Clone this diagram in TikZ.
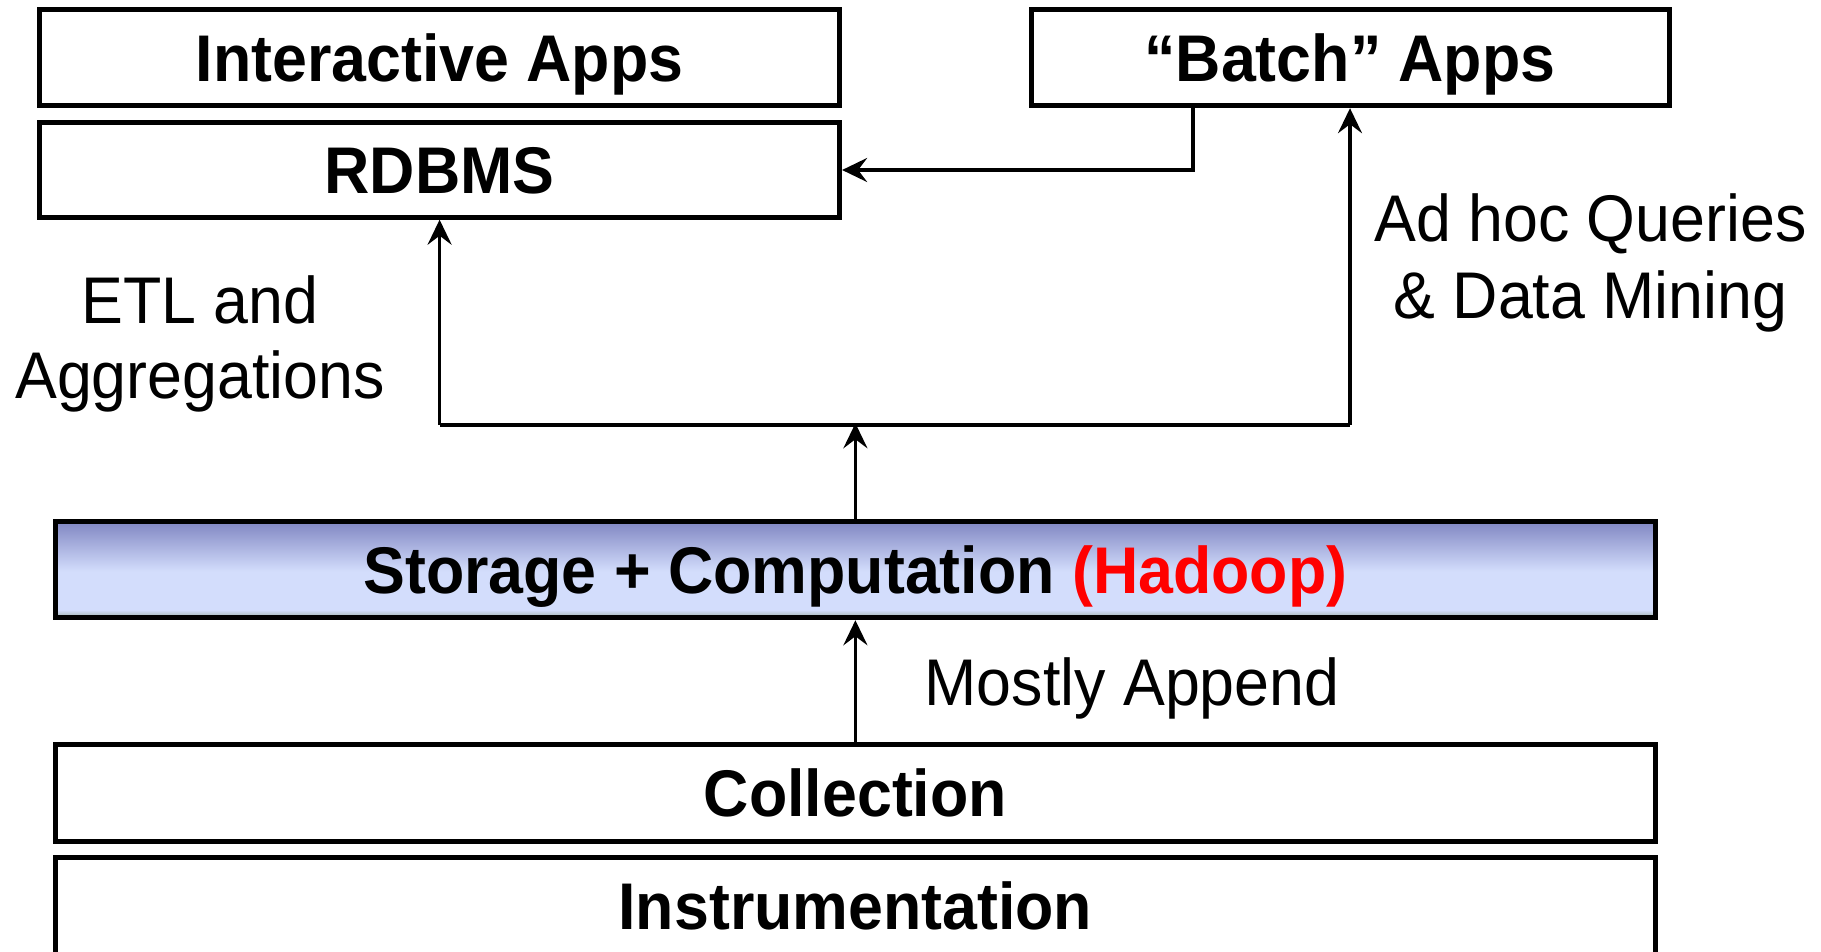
\documentclass[tikz,border=0pt]{standalone}
\usepackage{fontspec}
\setmainfont{Liberation Sans}[FakeStretch=0.95]
\usetikzlibrary{arrows.meta}
\definecolor{topb}{RGB}{128,134,194}
\definecolor{lightb}{RGB}{211,221,252}
\definecolor{botg}{RGB}{158,176,168}
\definecolor{hred}{RGB}{255,0,0}
\pgfdeclareverticalshading{hadoopshade}{100bp}{color(0bp)=(botg); color(25bp)=(botg); color(29bp)=(lightb); color(49bp)=(lightb); color(75bp)=(topb); color(100bp)=(topb)}
\begin{document}
\begin{tikzpicture}[x=1pt,y=-1pt,
  layerbox/.style={draw=black, line width=5pt, fill=white, rectangle, inner sep=0pt,
    font=\fontsize{66}{76}\selectfont\bfseries, text height=47.3pt, text depth=0pt},
  lbl/.style={font=\fontsize{66}{76}\selectfont, inner sep=0pt, anchor=base},
  conn/.style={line width=3.5pt, draw=black},
  arr/.style={conn, -{Stealth[length=25pt, width=24pt, inset=9pt]}}]
\useasboundingbox (0,0) rectangle (1821,951);
% boxes
\node[layerbox, minimum width=800pt, minimum height=96.4pt] (inter) at (439.6,57.5) {Interactive Apps};
\node[layerbox, minimum width=800pt, minimum height=95.2pt] (rdbms) at (439.6,169.6) {RDBMS};
\node[layerbox, minimum width=638pt, minimum height=96.4pt] (batch) at (1350,57.5) {“Batch” Apps};
\node[layerbox, minimum width=1599.3pt, minimum height=96.5pt, shading=hadoopshade] (store) at (855.4,569.5) {Storage + Computation \textcolor{hred}{(Hadoop)}};
\node[layerbox, minimum width=1599.3pt, minimum height=97pt] (coll) at (855.4,793) {Collection};
\node[layerbox, minimum width=1599.3pt, minimum height=120pt] (instr) at (855.4,917) {};
\node[font=\fontsize{66}{76}\selectfont\bfseries, inner sep=0pt, anchor=base] (instrtxt) at (855.4,929) {Instrumentation};
% junction coordinates
\coordinate (jleft) at (439.6,425);
\coordinate (jmid) at (855.4,425);
\coordinate (jright) at (1350,425);
\coordinate (elbowtop) at (1193,105.7);
\coordinate (elbow) at (1193,170);
% connectors
\draw[conn] (jleft) -- (jright);
\draw[arr] (jleft) -- (rdbms.south);
\draw[arr] (jright) -- (batch.south);
\draw[arr] (store.north) -- ([yshift=1.75pt]jmid);
\draw[arr] (coll.north) -- (store.south);
\draw[conn] (batch.south -| elbowtop) -- (elbow);
\draw[arr] ([xshift=1.75pt]elbow) -- (rdbms.east |- elbow);
% labels
\node[lbl] (etl1) at (200,323) {ETL and};
\node[lbl] (etl2) at (200,398.4) {Aggregations};
\node[lbl] (adhoc1) at (1590.5,241.6) {Ad hoc Queries};
\node[lbl] (adhoc2) at (1590.5,318) {\& Data Mining};
\node[lbl, anchor=base west] (mostly) at (924.5,705) {Mostly Append};
\end{tikzpicture}
\end{document}
